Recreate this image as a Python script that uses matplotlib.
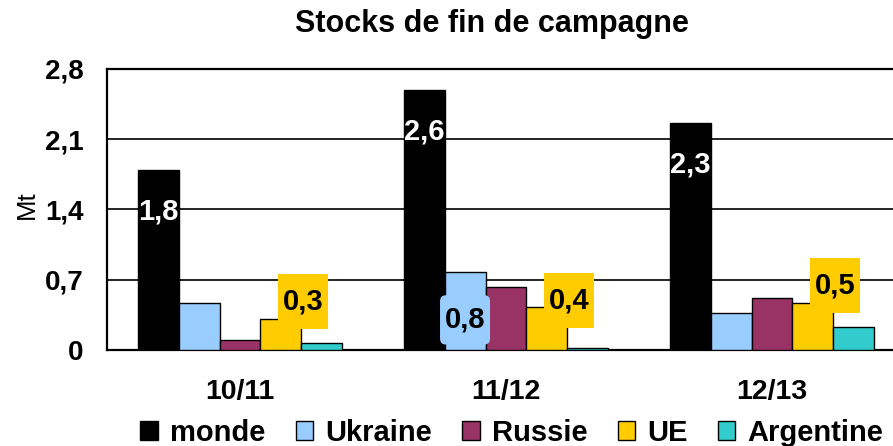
import matplotlib
matplotlib.use('Agg')
import matplotlib.pyplot as plt
from matplotlib.patches import Rectangle, FancyBboxPatch
import numpy as np

plt.rcParams['font.family'] = ['Liberation Sans', 'DejaVu Sans']

# --- Données ---
campagnes = ['10/11', '11/12', '12/13']
series = ['monde', 'Ukraine', 'Russie', 'UE', 'Argentine']
monde = [1.79, 2.59, 2.26]
ukraine = [0.47, 0.78, 0.37]
russie = [0.10, 0.63, 0.52]
ue = [0.31, 0.43, 0.47]
argentine = [0.07, 0.02, 0.23]
couleurs = ['#000000', '#99CCFF', '#993366', '#FFCC00', '#33CCCC']
yticks = [0, 0.7, 1.4, 2.1, 2.8]

# positions des étiquettes (mise en page)
ue_label_y = [0.48, 0.49, 0.645]


def fmt(v):
    return f"{v:.1f}".replace('.', ',')


fig = plt.figure(figsize=(8.93, 4.46), dpi=100)
ax = fig.add_axes([107 / 893, 96 / 446, 798 / 893, 281 / 446])

x = np.arange(len(campagnes))
w = 0.154
valeurs = [monde, ukraine, russie, ue, argentine]
for j, (nom, vals, c) in enumerate(zip(series, valeurs, couleurs)):
    ax.bar(x + (j - 2) * w, vals, width=w, color=c, edgecolor='black',
           linewidth=1.0, label=nom, zorder=3)

ax.set_xlim(-0.5, 2.5)
ax.set_ylim(0, 2.8)
ax.set_yticks(yticks)
ax.set_yticklabels([fmt(t) if t else '0' for t in yticks])
ax.set_xticks(x)
ax.set_xticklabels(campagnes)
ax.tick_params(axis='y', length=0, pad=17, labelsize=20)
ax.tick_params(axis='x', length=0, pad=21, labelsize=20.5)
for lab in ax.get_xticklabels() + ax.get_yticklabels():
    lab.set_fontweight('bold')
ax.grid(axis='y', color='black', linewidth=1.2, zorder=1)
ax.set_axisbelow(True)
for s in ax.spines.values():
    s.set_linewidth(1.6)
    s.set_color('black')

# étiquettes monde (blanc, dans la barre)
for i, v in enumerate(monde):
    ax.text(x[i] - 2 * w, v - 0.41, fmt(v), color='white', fontsize=21,
            fontweight='bold', ha='center', va='center', zorder=5)

# étiquettes UE (cadre jaune)
bw, bh = 0.188, 0.55
for i, v in enumerate(ue):
    cx = x[i] + w + 0.082
    cy = ue_label_y[i]
    ax.add_patch(Rectangle((cx - bw / 2, cy - bh / 2), bw, bh,
                           facecolor='#FFCC00', edgecolor='none', zorder=4))
    ax.text(cx, cy, fmt(v), color='black', fontsize=21, fontweight='bold',
            ha='center', va='center', zorder=5)

# étiquette Ukraine 11/12
cx, cy = x[1] - w, 0.30
ax.add_patch(FancyBboxPatch((cx - bw / 2 + 0.01, cy - bh / 2 + 0.06), bw - 0.02, bh - 0.12,
                            boxstyle='round,pad=0.01,rounding_size=0.02',
                            mutation_aspect=3, facecolor='#99CCFF',
                            edgecolor='none', zorder=4))
ax.text(cx, cy, fmt(ukraine[1]), color='black', fontsize=21, fontweight='bold',
        ha='center', va='center', zorder=5)

fig.text(492 / 893, 1 - 24 / 446, 'Stocks de fin de campagne', fontsize=22,
         fontweight='bold', ha='center', va='center')
fig.text(27 / 893, 1 - 205 / 446, 'Mt', fontsize=18.5, rotation=90,
         ha='center', va='center')

leg = ax.legend(loc='center', bbox_to_anchor=(0.5075, -(433 - 350) / 281),
                ncol=5, frameon=False, handlelength=0.6, handleheight=0.6,
                handletextpad=0.42, columnspacing=1.03, borderaxespad=0,
                prop={'weight': 'bold', 'size': 21})

fig.savefig('out.png', dpi=100)
